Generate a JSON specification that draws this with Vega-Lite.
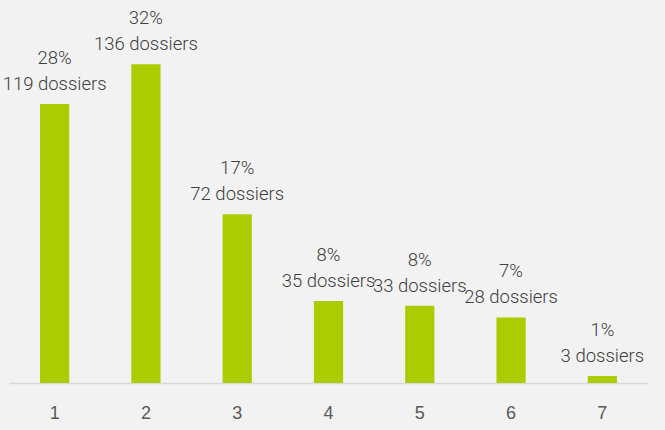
{
  "$schema": "https://vega.github.io/schema/vega-lite/v6.json",
  "width": 639,
  "height": 375,
  "autosize": {"type": "none"},
  "padding": {"left": 9, "top": 8, "right": 17, "bottom": 47},
  "background": "#f2f2f2",
  "config": {"view": {"stroke": null}},
  "data": {"values": [
    {"cat": "1", "count": 119, "label": "28%\n119 dossiers"},
    {"cat": "2", "count": 136, "label": "32%\n136 dossiers"},
    {"cat": "3", "count": 72, "label": "17%\n72 dossiers"},
    {"cat": "4", "count": 35, "label": "8%\n35 dossiers"},
    {"cat": "5", "count": 33, "label": "8%\n33 dossiers"},
    {"cat": "6", "count": 28, "label": "7%\n28 dossiers"},
    {"cat": "7", "count": 3, "label": "1%\n3 dossiers"}
  ]},
  "encoding": {
    "x": {
      "field": "cat", "type": "nominal", "sort": null,
      "scale": {"paddingInner": 0.68, "paddingOuter": 0.34},
      "axis": {
        "title": null, "labelAngle": 0, "ticks": false,
        "domainColor": "#d9d9d9", "domainWidth": 1.5,
        "labelFont": "Liberation Sans", "labelFontSize": 18,
        "labelColor": "#595959", "labelPadding": 21
      }
    },
    "y": {
      "field": "count", "type": "quantitative",
      "scale": {"domain": [0, 160]},
      "axis": null
    }
  },
  "layer": [
    {"mark": {"type": "bar", "color": "#aacc00"}},
    {
      "mark": {
        "type": "text", "baseline": "bottom", "dy": -36,
        "lineBreak": "\n", "lineHeight": 26,
        "font": "Roboto", "fontSize": 18.5, "fontWeight": 300, "color": "#404040"
      },
      "encoding": {"text": {"field": "label"}}
    }
  ]
}
